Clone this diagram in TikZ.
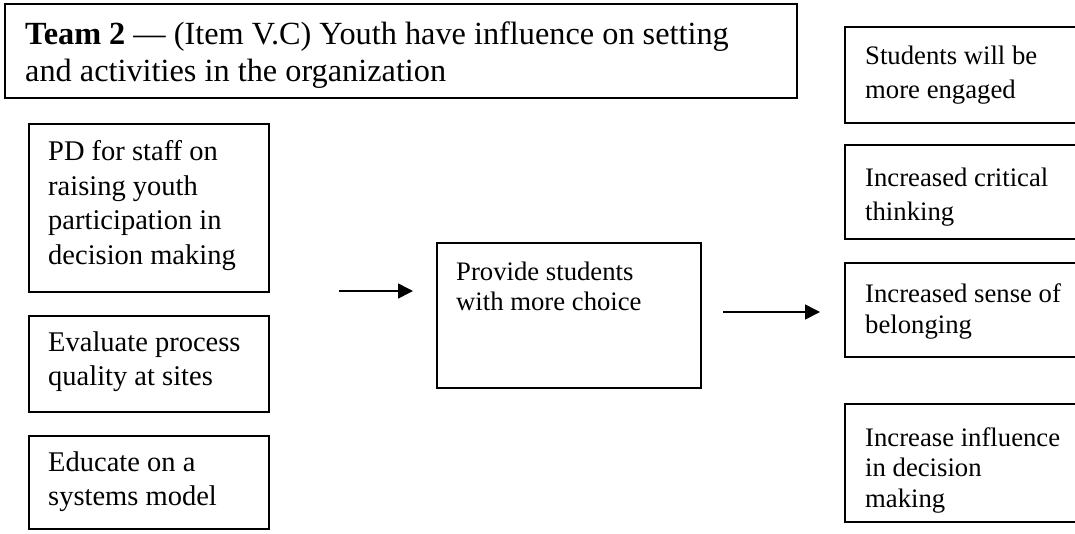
\documentclass[tikz,border=0pt]{standalone}
\usepackage{fontspec}
\setmainfont{Liberation Serif}
\usetikzlibrary{arrows.meta}

\begin{document}
\begin{tikzpicture}[x=1pt,y=-1pt,
  box/.style={draw=black, line width=1.6pt, anchor=north west, inner sep=0pt},
  txt/.style={anchor=north west, inner sep=0pt, align=left,
              font=\fontsize{28.5}{34.5}\selectfont},
  stxt/.style={anchor=north west, inner sep=0pt, align=left,
              font=\fontsize{26.7}{30.5}\selectfont},
  wtxt/.style={anchor=north west, inner sep=0pt, align=left,
              font=\fontsize{26.7}{34.5}\selectfont},
  ttl/.style={anchor=north west, inner sep=0pt, align=left,
              font=\fontsize{32.3}{37}\selectfont},
  flow/.style={line width=1.6pt, -{Triangle[length=15pt,width=15pt]}}]

\useasboundingbox (0,0) rectangle (1075,533);
\clip (0,0) rectangle (1075,533);

% heading
\node[box, minimum width=792pt, minimum height=94pt] (title) at (4,3) {};
\node[ttl] (titletxt) at (25,21.1)
  {\textbf{Team 2} --- (Item V.C) Youth have influence on setting\\
   and activities in the organization};

% activities
\node[box, minimum width=240pt, minimum height=168pt] (pd) at (28,123) {};
\node[txt] (pdtxt) at (48,140.4)
  {PD for staff on\\raising youth\\participation in\\decision making};

\node[box, minimum width=240pt, minimum height=96pt] (eval) at (28,315) {};
\node[txt] (evaltxt) at (48,331.4) {Evaluate process\\quality at sites};

\node[box, minimum width=240pt, minimum height=93pt] (edu) at (28,435) {};
\node[txt] (edutxt) at (48,451.4) {Educate on a\\systems model};

% output
\node[box, minimum width=264pt, minimum height=145pt] (mid) at (436,242) {};
\node[stxt] (midtxt) at (456,261.6) {Provide students\\with more choice};

% outcomes
\node[box, minimum width=241pt, minimum height=96pt] (r1) at (844,26) {};
\node[wtxt] (r1txt) at (865,45.5) {Students will be\\more engaged};

\node[box, minimum width=241pt, minimum height=94pt] (r2) at (844,144) {};
\node[wtxt] (r2txt) at (865,167.4) {Increased critical\\thinking};

\node[box, minimum width=241pt, minimum height=94pt] (r3) at (844,262) {};
\node[stxt] (r3txt) at (865,283.9) {Increased sense of\\belonging};

\node[box, minimum width=241pt, minimum height=118pt] (r4) at (844,403) {};
\node[stxt] (r4txt) at (865,427) {Increase influence\\in decision\\making};

% arrows
\coordinate (a1s) at (339,291);
\coordinate (a1e) at (413,291);
\coordinate (a2s) at (723,312);
\coordinate (a2e) at (820,312);
\draw[flow] (a1s) -- (a1e);
\draw[flow] (a2s) -- (a2e);
\end{tikzpicture}
\end{document}
